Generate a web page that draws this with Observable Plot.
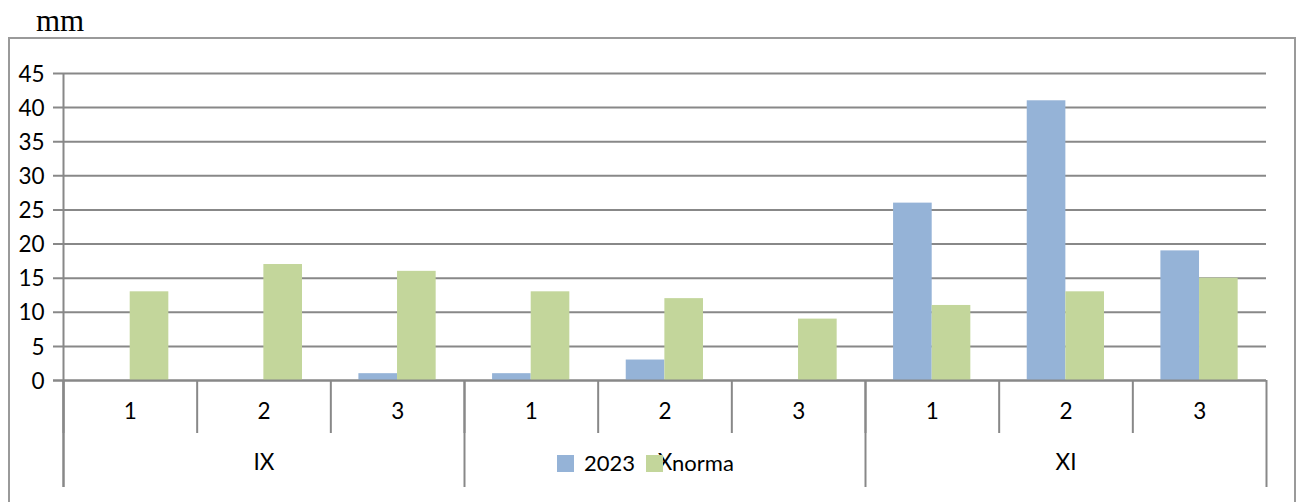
<!DOCTYPE html>
<html><head><meta charset="utf-8">
<script src="https://cdn.jsdelivr.net/npm/d3@7"></script>
<script src="https://cdn.jsdelivr.net/npm/@observablehq/plot@0.6"></script>
<style>
html,body{margin:0;padding:0;background:#fff}
body{width:1299px;height:502px;overflow:hidden;position:relative;font-family:Lato,sans-serif}
#unit{position:absolute;left:36px;top:3px;font-family:"Liberation Serif",serif;font-size:31px;line-height:36px;color:#000}
#frame{position:absolute;left:8px;top:37px;width:1284px;height:480px;border:2px solid #9a9a9a;box-sizing:content-box}
#chart{position:absolute;left:0;top:0}
#legend{position:absolute;left:557px;top:451px;display:flex;align-items:center;font-size:22px;line-height:24px;color:#000}
#legend .sw{width:17px;height:17px;display:inline-block}
</style>
</head><body>
<div id="frame"></div>
<div id="unit">mm</div>
<div id="chart"></div>
<div id="legend"></div>
<script>
const months = ["IX", "X", "XI"];
const decades = ["1", "2", "3"];
const seriesNames = ["2023", "norma"];
const values2023 = [0, 0, 1, 1, 3, 0, 26, 41, 19];
const valuesNorma = [13, 17, 16, 13, 12, 9, 11, 13, 15];
const yTicks = [0, 5, 10, 15, 20, 25, 30, 35, 40, 45];
const colors = ["#95B3D7", "#C3D69B"];

const keys = months.flatMap(m => decades.map(d => `${m}-${d}`));
const rows = keys.map((k, i) => ({key: k, month: k.split("-")[0], decade: k.split("-")[1], v2023: values2023[i], norma: valuesNorma[i]}));
const monthCenters = months.map(m => ({key: `${m}-${decades[1]}`, month: m}));
const monthStarts = months.map(m => `${m}-${decades[0]}`);

const W = 1299, H = 502, mL = 63, mR = 33, mT = 73, mB = 122;
const step = (W - mL - mR) / keys.length;
const plotH = H - mT - mB;
const pad = step * 0.21, bw = step * 0.289;
const gridColor = "#888888";

const chart = Plot.plot({
  width: W, height: H,
  marginLeft: mL, marginRight: mR, marginTop: mT, marginBottom: mB,
  style: {fontFamily: "Lato, sans-serif", fontSize: "22.5px", color: "#000", background: "transparent", overflow: "visible"},
  x: {domain: keys, padding: 0, round: false, axis: null},
  y: {domain: [0, 45], axis: null},
  marks: [
    Plot.ruleY(yTicks, {y: d => d, stroke: gridColor, strokeWidth: 2, insetLeft: -10}),
    Plot.text(yTicks, {y: d => d, text: d => String(d), frameAnchor: "left", textAnchor: "end", dx: -19, dy: 1, fill: "#000"}),
    Plot.barY(rows, {x: "key", y: "v2023", fill: colors[0], insetLeft: pad, insetRight: step - pad - bw}),
    Plot.barY(rows, {x: "key", y: "norma", fill: colors[1], insetLeft: pad + bw, insetRight: step - pad - 2 * bw}),
    // decade separators
    Plot.ruleX(keys, {x: d => d, dx: -step / 2, stroke: gridColor, strokeWidth: 2, insetTop: plotH, insetBottom: -53}),
    // month separators
    Plot.ruleX(monthStarts, {x: d => d, dx: -step / 2, stroke: gridColor, strokeWidth: 2, insetTop: plotH, insetBottom: -107}),
    Plot.ruleX([keys[keys.length - 1]], {x: d => d, dx: step / 2, stroke: gridColor, strokeWidth: 2, insetTop: plotH, insetBottom: -107}),
    // y axis line
    Plot.ruleX([keys[0]], {x: d => d, dx: -step / 2, stroke: gridColor, strokeWidth: 2, insetBottom: -107}),
    Plot.ruleY([0], {stroke: gridColor, strokeWidth: 2, insetLeft: -10}),
    Plot.text(rows, {x: "key", text: "decade", frameAnchor: "bottom", dy: 38, fill: "#000"}),
    Plot.text(monthCenters, {x: "key", text: "month", frameAnchor: "bottom", dy: 89, fill: "#000"})
  ]
});
document.getElementById("chart").appendChild(chart);

const legend = document.getElementById("legend");
seriesNames.forEach((s, i) => {
  const sw = document.createElement("span");
  sw.className = "sw";
  sw.style.background = colors[i];
  sw.style.marginRight = i === 0 ? "10px" : "9px";
  const t = document.createElement("span");
  t.textContent = s;
  t.style.marginRight = i === 0 ? "11px" : "0";
  legend.appendChild(sw);
  legend.appendChild(t);
});
</script>
</body></html>
